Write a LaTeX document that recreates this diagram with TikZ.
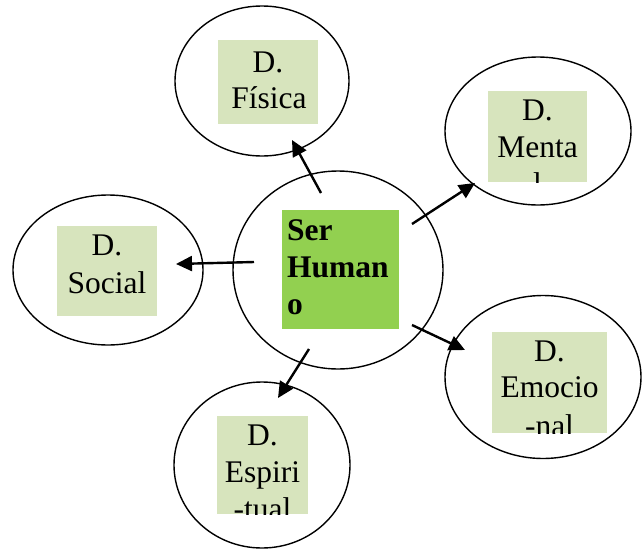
\documentclass[tikz,border=0pt]{standalone}
\usepackage{fontspec}
\setmainfont{Liberation Serif}
\usetikzlibrary{shapes.geometric,arrows.meta}
\definecolor{lightbox}{HTML}{D7E4BD}
\definecolor{greenbox}{HTML}{92D050}
\begin{document}
\begin{tikzpicture}[x=1pt,y=-1pt,
  dimell/.style={ellipse,draw,line width=1.4pt,inner sep=0pt},
  lbox/.style={rectangle,fill=lightbox,inner sep=0pt},
  gbox/.style={rectangle,fill=greenbox,inner sep=0pt},
  lbl/.style={font=\fontsize{31.5}{36}\selectfont,anchor=base,inner sep=0pt},
  hlbl/.style={font=\fontsize{31.5}{36}\selectfont\bfseries,anchor=base west,inner sep=0pt},
  conn/.style={line width=2.4pt,-{Triangle[length=16pt,width=15pt]}}]
\useasboundingbox (0,0) rectangle (642,549);

% ellipses
\node[dimell,minimum width=174pt,minimum height=150pt] (fis) at (262,81) {};
\node[dimell,minimum width=186pt,minimum height=148pt] (men) at (538,131) {};
\node[dimell,minimum width=190pt,minimum height=150pt] (soc) at (108,270) {};
\node[dimell,minimum width=196pt,minimum height=163pt] (emo) at (543,377) {};
\node[dimell,minimum width=176pt,minimum height=166pt] (esp) at (262,465) {};
\node[dimell,minimum width=210pt,minimum height=198pt] (hum) at (338,270) {};

% boxes
\node[lbox,minimum width=100pt,minimum height=84pt] (fisbox) at (268,82) {};
\node[lbox,minimum width=99pt,minimum height=91pt] (menbox) at (537.5,136.5) {};
\node[lbox,minimum width=100pt,minimum height=90pt] (socbox) at (107,271) {};
\node[lbox,minimum width=115pt,minimum height=101pt] (emobox) at (549.5,382.5) {};
\node[lbox,minimum width=91pt,minimum height=98pt] (espbox) at (262.5,465) {};
\node[gbox,minimum width=117pt,minimum height=119pt] (humbox) at (340.5,269.5) {};

% texts
\node[lbl] (fis1) at (268,72) {D.};
\node[lbl] (fis2) at (269,108) {Física};
\begin{scope}
  \clip (menbox.south west) rectangle (menbox.north east);
  \node[lbl] (men1) at (537.5,120) {D.};
  \node[lbl] (men2) at (537.5,157) {Menta};
  \node[lbl] (men3) at (537.5,194) {l};
\end{scope}
\node[lbl] (soc1) at (107,255) {D.};
\node[lbl] (soc2) at (107,293) {Social};
\begin{scope}
  \clip (emobox.south west) rectangle (emobox.north east);
  \node[lbl] (emo1) at (549.5,361) {D.};
  \node[lbl] (emo2) at (549.5,397) {Emocio};
  \node[lbl] (emo3) at (549.5,436) {-nal};
\end{scope}
\begin{scope}
  \clip (espbox.south west) rectangle (espbox.north east);
  \node[lbl] (esp1) at (262.5,445) {D.};
  \node[lbl] (esp2) at (262.5,482) {Espiri};
  \node[lbl] (esp3) at (262.5,519) {-tual};
\end{scope}
\node[hlbl] (hum1) at (287,240) {Ser};
\node[hlbl] (hum2) at (287,277) {Human};
\node[hlbl] (hum3) at (287,314) {o};

% connector ends
\coordinate (afis) at (321,193);
\coordinate (tfis) at (292,140);
\coordinate (amen) at (412,224);
\coordinate (tmen) at (475,183);
\coordinate (asoc) at (254,262);
\coordinate (tsoc) at (176,264);
\coordinate (aemo) at (412,325);
\coordinate (temo) at (465,350);
\coordinate (aesp) at (309,349);
\coordinate (tesp) at (278,398);

\draw[conn] (afis) -- (tfis);
\draw[conn] (amen) -- (tmen);
\draw[conn] (asoc) -- (tsoc);
\draw[conn] (aemo) -- (temo);
\draw[conn] (aesp) -- (tesp);
\end{tikzpicture}
\end{document}
